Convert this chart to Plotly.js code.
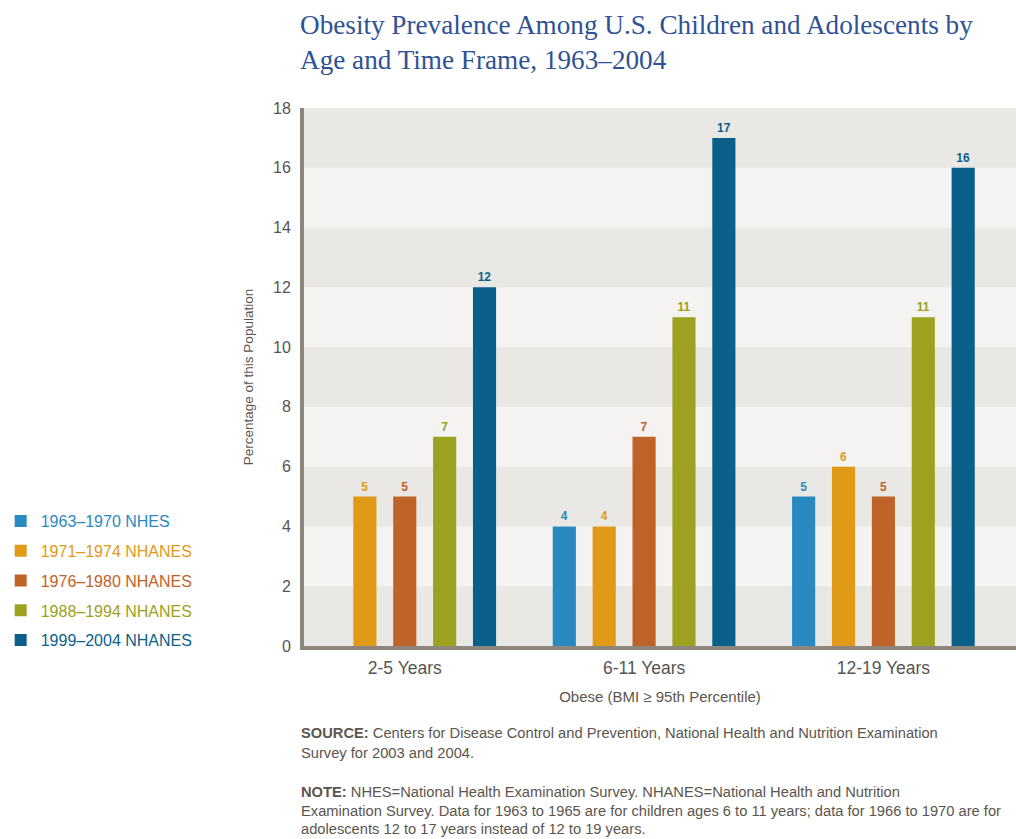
<!DOCTYPE html>
<html>
<head>
<meta charset="utf-8">
<script src="https://cdn.plot.ly/plotly-3.0.1.min.js"></script>
<style>html,body{margin:0;padding:0;background:#fff;}#chart{width:1016px;height:839px;}</style>
</head>
<body>
<div id="chart"></div>
<script>
// ---- data ----
var categories = ["2-5 Years", "6-11 Years", "12-19 Years"];
var seriesNames = ["1963\u20131970 NHES", "1971\u20131974 NHANES", "1976\u20131980 NHANES", "1988\u20131994 NHANES", "1999\u20132004 NHANES"];
var nhes1963 = [null, 4, 5];
var nhanes1971 = [5, 4, 6];
var nhanes1976 = [5, 7, 5];
var nhanes1988 = [7, 11, 11];
var nhanes1999 = [12, 17, 16];
var yTicks = [0, 2, 4, 6, 8, 10, 12, 14, 16, 18];
var titleText = "Obesity Prevalence Among U.S. Children and Adolescents by<br>Age and Time Frame, 1963\u20132004";
var yTitle = "Percentage of this Population";
var xTitle = "Obese (BMI \u2265 95th Percentile)";
var noteLines = [
  "<b>SOURCE:</b> Centers for Disease Control and Prevention, National Health and Nutrition Examination",
  "Survey for 2003 and 2004.",
  "<b>NOTE:</b> NHES=National Health Examination Survey. NHANES=National Health and Nutrition",
  "Examination Survey. Data for 1963 to 1965 are for children ages 6 to 11 years; data for 1966 to 1970 are for",
  "adolescents 12 to 17 years instead of 12 to 19 years."
];

// ---- styling ----
var colors = ["#2b89c2", "#e09a17", "#c06328", "#9ca220", "#0b5f8b"];
var allValues = [nhes1963, nhanes1971, nhanes1976, nhanes1988, nhanes1999];
var sans = "Liberation Sans, Arial, sans-serif";

var plotTop = 108, plotBottom = 646;
function py(p) { return (plotBottom - p) / (plotBottom - plotTop); }

var traces = allValues.map(function (vals, i) {
  return {
    type: "bar",
    x: categories,
    y: vals,
    name: '<span style="color:' + colors[i] + '">' + seriesNames[i] + '</span>',
    legendgroup: "g" + i,
    marker: { color: colors[i], line: { width: 0 } },
    text: vals.map(function (v) { return v === null ? "" : String(v); }),
    textposition: "outside",
    textfont: { family: sans, size: 12, color: colors[i], weight: "bold" },
    cliponaxis: false,
    hoverinfo: "x+y+name"
  };
});

// background stripes (darker bands every other 2 units)
var shapes = [];
for (var k = 0; k < yTicks.length - 1; k++) {
  if ((yTicks.length - 2 - k) % 2 === 0) {
    shapes.push({
      type: "rect", xref: "paper", yref: "y", layer: "below",
      x0: 0, x1: 1, y0: yTicks[k], y1: yTicks[k + 1],
      fillcolor: "#e9e8e5", line: { width: 0 }
    });
  }
}

var noteY = [733, 753, 792, 811, 829];
var annotations = noteLines.map(function (t, i) {
  return {
    text: t, xref: "paper", yref: "paper", x: -0.007, y: py(noteY[i]),
    xanchor: "left", yanchor: "middle", showarrow: false, align: "left",
    font: { family: sans, size: 14.7, color: "#5b554e" }
  };
});

var layout = {
  width: 1016, height: 839,
  margin: { l: 302, r: 0, t: plotTop, b: 839 - plotBottom, pad: 0 },
  paper_bgcolor: "#ffffff",
  plot_bgcolor: "#f4f3f1",
  title: {
    text: titleText,
    xref: "container", yref: "container",
    x: 300 / 1016, xanchor: "left",
    y: 1 - 34 / 839, yanchor: "top",
    font: { family: "Liberation Serif, Times New Roman, serif", size: 27.2, color: "#2f5294" }
  },
  barmode: "group",
  bargap: 0.1667,
  bargroupgap: 0.42,
  showlegend: true,
  legend: {
    x: -0.426, xanchor: "left", y: py(504), yanchor: "top",
    traceorder: "grouped", tracegroupgap: 6,
    font: { family: sans, size: 16, color: "#555" },
    bgcolor: "rgba(0,0,0,0)", itemclick: false
  },
  xaxis: {
    type: "category",
    range: [-0.421, 2.554],
    showgrid: false, zeroline: false,
    showline: true, linecolor: "#8d867c", linewidth: 4,
    ticks: "outside", ticklen: 3, tickcolor: "rgba(0,0,0,0)",
    tickfont: { family: sans, size: 17.5, color: "#555" },
    title: { text: xTitle, font: { family: sans, size: 15, color: "#5b554e" }, standoff: 15 }
  },
  yaxis: {
    range: [0, 18],
    tickvals: yTicks,
    showgrid: false, zeroline: false,
    showline: true, linecolor: "#8d867c", linewidth: 4,
    ticks: "outside", ticklen: 6, tickcolor: "rgba(0,0,0,0)",
    tickfont: { family: sans, size: 16, color: "#555" },
    title: { text: yTitle, font: { family: sans, size: 13.5, color: "#5b554e" }, standoff: 17 }
  },
  shapes: shapes,
  annotations: annotations
};

Plotly.newPlot("chart", traces, layout, { displayModeBar: false, responsive: false });
</script>
</body>
</html>
